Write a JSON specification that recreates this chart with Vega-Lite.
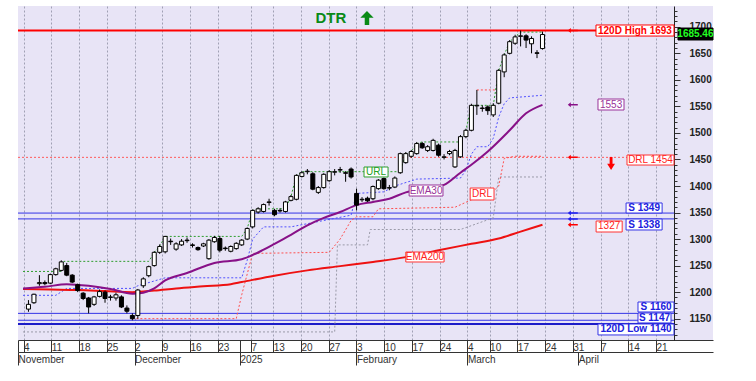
{
  "$schema": "https://vega.github.io/schema/vega-lite/v6.json",
  "width": 695,
  "height": 334,
  "padding": {"left": 17, "top": 6, "right": 0, "bottom": 0},
  "background": "white",
  "view": {"stroke": null, "fill": "#E8E4F6"},
  "config": {"view": {"stroke": null, "fill": "#E8E4F6"}, "font": "Liberation Sans", "axis": {"labelOverlap": false, "labelFlush": false, "labelBound": false}},
  "datasets": {
    "candles": [
      {"t":1,"o":1168,"h":1185,"l":1163,"c":1177},{"t":2,"o":1180,"h":1197,"l":1178,"c":1196},{"t":3,"o":1216,"h":1232,"l":1212,"c":1218},{"t":4,"o":1218,"h":1222,"l":1213,"c":1216},{"t":5,"o":1217,"h":1235,"l":1215,"c":1233},
      {"t":6,"o":1233,"h":1246,"l":1231,"c":1244},{"t":7,"o":1241,"h":1260,"l":1239,"c":1257},{"t":8,"o":1250,"h":1255,"l":1230,"c":1232},{"t":9,"o":1232,"h":1234,"l":1217,"c":1219},{"t":10,"o":1214,"h":1216,"l":1200,"c":1203},
      {"t":11,"o":1198,"h":1200,"l":1185,"c":1188},{"t":12,"o":1189,"h":1191,"l":1160,"c":1172},{"t":13,"o":1177,"h":1193,"l":1174,"c":1191},{"t":14,"o":1192,"h":1205,"l":1190,"c":1201},{"t":15,"o":1200,"h":1203,"l":1180,"c":1188},
      {"t":16,"o":1190,"h":1195,"l":1184,"c":1191},{"t":17,"o":1189,"h":1199,"l":1184,"c":1195},{"t":18,"o":1191,"h":1194,"l":1170,"c":1172},{"t":19,"o":1170,"h":1175,"l":1160,"c":1164},{"t":20,"o":1156,"h":1160,"l":1147,"c":1150},
      {"t":21,"o":1156,"h":1206,"l":1150,"c":1204},{"t":22,"o":1212,"h":1228,"l":1208,"c":1225},{"t":23,"o":1231,"h":1250,"l":1228,"c":1248},{"t":24,"o":1250,"h":1277,"l":1248,"c":1275},{"t":25,"o":1275,"h":1290,"l":1272,"c":1286},
      {"t":26,"o":1276,"h":1306,"l":1273,"c":1305},{"t":27,"o":1296,"h":1301,"l":1289,"c":1295},{"t":28,"o":1281,"h":1294,"l":1278,"c":1291},{"t":29,"o":1289,"h":1300,"l":1287,"c":1296},{"t":30,"o":1298,"h":1303,"l":1293,"c":1297},
      {"t":31,"o":1289,"h":1292,"l":1284,"c":1288},{"t":32,"o":1284,"h":1286,"l":1278,"c":1280},{"t":33,"o":1287,"h":1293,"l":1285,"c":1291},{"t":34,"o":1263,"h":1300,"l":1261,"c":1298},{"t":35,"o":1295,"h":1306,"l":1293,"c":1303},
      {"t":36,"o":1301,"h":1306,"l":1275,"c":1279},{"t":37,"o":1283,"h":1286,"l":1278,"c":1282},{"t":38,"o":1277,"h":1288,"l":1275,"c":1286},{"t":39,"o":1282,"h":1294,"l":1280,"c":1292},{"t":40,"o":1289,"h":1300,"l":1287,"c":1298},
      {"t":41,"o":1300,"h":1322,"l":1298,"c":1320},{"t":42,"o":1323,"h":1356,"l":1320,"c":1354},{"t":43,"o":1351,"h":1360,"l":1348,"c":1357},{"t":44,"o":1352,"h":1367,"l":1350,"c":1365},{"t":45,"o":1369,"h":1376,"l":1363,"c":1370},
      {"t":46,"o":1354,"h":1357,"l":1343,"c":1346},{"t":47,"o":1353,"h":1358,"l":1350,"c":1354},{"t":48,"o":1352,"h":1372,"l":1350,"c":1370},{"t":49,"o":1373,"h":1383,"l":1371,"c":1380},{"t":50,"o":1375,"h":1422,"l":1373,"c":1420},
      {"t":51,"o":1418,"h":1428,"l":1416,"c":1425},{"t":52,"o":1427,"h":1432,"l":1422,"c":1428},{"t":53,"o":1423,"h":1426,"l":1392,"c":1394},{"t":54,"o":1388,"h":1400,"l":1385,"c":1397},{"t":55,"o":1397,"h":1424,"l":1395,"c":1422},
      {"t":56,"o":1410,"h":1430,"l":1408,"c":1427},{"t":57,"o":1426,"h":1432,"l":1420,"c":1427},{"t":58,"o":1430,"h":1436,"l":1425,"c":1431},{"t":59,"o":1425,"h":1428,"l":1408,"c":1424},{"t":60,"o":1432,"h":1435,"l":1414,"c":1417},
      {"t":61,"o":1386,"h":1395,"l":1354,"c":1364},{"t":62,"o":1374,"h":1379,"l":1370,"c":1375},{"t":63,"o":1377,"h":1380,"l":1370,"c":1372},{"t":64,"o":1376,"h":1401,"l":1373,"c":1399},{"t":65,"o":1395,"h":1413,"l":1393,"c":1411},
      {"t":66,"o":1414,"h":1416,"l":1393,"c":1395},{"t":67,"o":1396,"h":1402,"l":1392,"c":1397},{"t":68,"o":1398,"h":1418,"l":1396,"c":1415},{"t":69,"o":1425,"h":1463,"l":1423,"c":1461},{"t":70,"o":1444,"h":1464,"l":1442,"c":1461},
      {"t":71,"o":1456,"h":1468,"l":1453,"c":1465},{"t":72,"o":1461,"h":1483,"l":1459,"c":1480},{"t":73,"o":1480,"h":1483,"l":1470,"c":1472},{"t":74,"o":1467,"h":1477,"l":1464,"c":1474},{"t":75,"o":1467,"h":1489,"l":1465,"c":1486},
      {"t":76,"o":1477,"h":1480,"l":1455,"c":1458},{"t":77,"o":1454,"h":1460,"l":1450,"c":1455},{"t":78,"o":1461,"h":1468,"l":1458,"c":1465},{"t":79,"o":1436,"h":1470,"l":1434,"c":1467},{"t":80,"o":1455,"h":1496,"l":1453,"c":1493},
      {"t":81,"o":1493,"h":1508,"l":1490,"c":1505},{"t":82,"o":1505,"h":1555,"l":1503,"c":1552},{"t":83,"o":1551,"h":1581,"l":1534,"c":1552},{"t":84,"o":1546,"h":1552,"l":1540,"c":1547},{"t":85,"o":1549,"h":1552,"l":1534,"c":1542},
      {"t":86,"o":1534,"h":1556,"l":1530,"c":1552},{"t":87,"o":1556,"h":1620,"l":1554,"c":1618},{"t":88,"o":1615,"h":1650,"l":1605,"c":1647},{"t":89,"o":1650,"h":1675,"l":1648,"c":1672},{"t":90,"o":1669,"h":1685,"l":1666,"c":1681},
      {"t":91,"o":1682,"h":1693,"l":1663,"c":1683},{"t":92,"o":1683,"h":1686,"l":1660,"c":1675},{"t":93,"o":1668,"h":1682,"l":1650,"c":1678},{"t":94,"o":1651,"h":1656,"l":1641,"c":1650},{"t":95,"o":1659,"h":1691,"l":1657,"c":1685.46}
    ],
    "ema200": [
      {"t":0,"v":1206},{"t":5,"v":1205},{"t":10,"v":1204},{"t":15,"v":1202},{"t":20,"v":1200},{"t":24,"v":1203},{"t":28,"v":1207},{"t":33,"v":1211},{"t":38,"v":1215},{"t":40,"v":1219},{"t":46,"v":1231},{"t":52,"v":1241},{"t":58,"v":1249},{"t":64,"v":1257},{"t":70,"v":1266},{"t":76,"v":1279},{"t":82,"v":1291},{"t":87,"v":1301},{"t":91,"v":1314},{"t":95,"v":1327}
    ],
    "ema30": [
      {"t":0,"v":1207},{"t":4,"v":1210},{"t":8,"v":1215},{"t":12,"v":1212},{"t":16,"v":1206},{"t":20,"v":1197},{"t":22,"v":1199},{"t":24,"v":1207},{"t":26,"v":1222},{"t":30,"v":1236},{"t":35,"v":1255},{"t":40,"v":1262},{"t":44,"v":1280},{"t":46,"v":1291},{"t":49,"v":1308},{"t":52,"v":1326},{"t":55,"v":1340},{"t":58,"v":1351},{"t":61,"v":1364},{"t":64,"v":1370},{"t":67,"v":1376},{"t":70,"v":1388},{"t":74,"v":1395},{"t":77,"v":1402},{"t":80,"v":1425},{"t":82,"v":1440},{"t":85,"v":1465},{"t":89,"v":1505},{"t":92,"v":1537},{"t":95,"v":1553}
    ],
    "grey": [
      {"t":0,"v":1125},{"t":57,"v":1125},{"t":57.5,"v":1289},{"t":63,"v":1289},{"t":63.5,"v":1318},{"t":80,"v":1318},{"t":86,"v":1340},{"t":87,"v":1417},{"t":95,"v":1417}
    ],
    "stop": [
      {"t":0,"v":1194},{"t":6,"v":1194},{"t":8,"v":1207},{"t":20,"v":1207},{"t":21,"v":1212},{"t":26,"v":1227},{"t":40,"v":1227},{"t":41,"v":1260},{"t":42,"v":1300},{"t":44,"v":1323},{"t":49,"v":1323},{"t":55,"v":1335},{"t":60,"v":1345},{"t":61,"v":1386},{"t":66,"v":1389},{"t":68,"v":1400},{"t":72,"v":1413},{"t":80,"v":1415},{"t":81,"v":1430},{"t":82,"v":1460},{"t":83,"v":1474},{"t":85,"v":1474},{"t":86,"v":1490},{"t":87,"v":1530},{"t":88,"v":1555},{"t":89,"v":1566},{"t":95,"v":1571}
    ],
    "drl": [
      {"t":20,"v":1150},{"t":39,"v":1150},{"t":40,"v":1195},{"t":42,"v":1273},{"t":56,"v":1275},{"t":58,"v":1300},{"t":60,"v":1335},{"t":61,"v":1342},{"t":64,"v":1342},{"t":65,"v":1357},{"t":79,"v":1360},{"t":82,"v":1374},{"t":86,"v":1390},{"t":87,"v":1400},{"t":88,"v":1452},{"t":90,"v":1456},{"t":95,"v":1456}
    ],
    "url": [
      {"t":0,"v":1239},{"t":7,"v":1239},{"t":7.5,"v":1258},{"t":23,"v":1258},{"t":24,"v":1275},{"t":25,"v":1287},{"t":26,"v":1305},{"t":40,"v":1305},{"t":41,"v":1320},{"t":42,"v":1354},{"t":43,"v":1357},{"t":48,"v":1357},{"t":49,"v":1380},{"t":50,"v":1420},{"t":51,"v":1427},{"t":69,"v":1427},{"t":70,"v":1461},{"t":71,"v":1465},{"t":72,"v":1480},{"t":73,"v":1483},{"t":80,"v":1483},{"t":81,"v":1505},{"t":82,"v":1552},{"t":86,"v":1552},{"t":87,"v":1618},{"t":88,"v":1647},{"t":89,"v":1672},{"t":90,"v":1681},{"t":91,"v":1690},{"t":95,"v":1690}
    ]
  },
  "layer": [
    {
      "data": {"values": [{"t": 50}]},
      "mark": {"type": "point", "opacity": 0, "size": 0},
      "encoding": {
        "x": {"field": "t", "type": "quantitative", "scale": {"domain": [0, 125.27], "nice": false, "zero": false},
          "axis": {"title": null, "orient": "bottom",
            "values": [1,6,11,16,21,26,31,36,42,46,51,56,61,66,71,76,81,85,90,95,100,105,110,115],
            "labelExpr": "['4','11','18','25','2','9','16','23','7','13','20','27','3','10','17','24','4','10','17','24','31','7','14','21'][indexof([1,6,11,16,21,26,31,36,42,46,51,56,61,66,71,76,81,85,90,95,100,105,110,115], datum.value)]",
            "tickSize": 12, "tickColor": "#333333", "domainColor": "#333333", "labelAlign": "left", "labelBaseline": "top", "labelPadding": -10, "labelDx": 2,
            "labelFontSize": 10, "labelColor": "#333333", "labelFont": "Liberation Sans", "labelOverlap": false, "labelFlush": false, "labelBound": false,
            "grid": true, "gridColor": "#a0a0b4", "gridDash": [2, 2]}}
      }
    },
    {
      "layer": [
        {"data": {"values": [{"v": 1454}]}, "mark": {"type": "rule", "color": "#ff5a5a", "strokeWidth": 1, "strokeDash": [2, 2]},
         "encoding": {"x": {"datum": 0, "scale": {"domain": [0, 125.27], "nice": false, "zero": false}, "axis": null}, "x2": {"datum": 118.25},
           "y": {"field": "v", "type": "quantitative", "scale": {"domain": [1109.8, 1739.2], "nice": false, "zero": false}, "axis": null}}},
        {"data": {"values": [{"v": 1349}, {"v": 1338}, {"v": 1160}, {"v": 1147}]}, "mark": {"type": "rule", "color": "#3434e6", "strokeWidth": 1},
         "encoding": {"x": {"datum": 0, "axis": null}, "x2": {"datum": 118.25}, "y": {"field": "v", "type": "quantitative", "axis": null}}},
        {"data": {"values": [{"v": 1140}]}, "mark": {"type": "rule", "color": "#1c1cc8", "strokeWidth": 2},
         "encoding": {"x": {"datum": 0, "axis": null}, "x2": {"datum": 118.25}, "y": {"field": "v", "type": "quantitative", "axis": null}}},
        {"data": {"values": [{"v": 1693}]}, "mark": {"type": "rule", "color": "#ff0000", "strokeWidth": 2},
         "encoding": {"x": {"datum": 0, "axis": null}, "x2": {"datum": 118.25}, "y": {"field": "v", "type": "quantitative", "axis": null}}}
      ]
    },
    {
      "encoding": {
        "x": {"field": "t", "type": "quantitative", "scale": {"domain": [0, 125.27], "nice": false, "zero": false}, "axis": null},
        "y": {"field": "v", "type": "quantitative", "scale": {"domain": [1109.8, 1739.2], "nice": false, "zero": false}, "axis": null}
      },
      "layer": [
        {"data": {"name": "grey"}, "mark": {"type": "line", "color": "#9a9aa8", "strokeWidth": 1, "strokeDash": [2, 2]}},
        {"data": {"name": "stop"}, "mark": {"type": "line", "color": "#5050ff", "strokeWidth": 1, "strokeDash": [2, 2]}},
        {"data": {"name": "drl"}, "mark": {"type": "line", "color": "#ff5050", "strokeWidth": 1, "strokeDash": [2, 2]}},
        {"data": {"name": "url"}, "mark": {"type": "line", "color": "#2e9e2e", "strokeWidth": 1, "strokeDash": [2, 2]}},
        {"data": {"values": [{"t": 83, "v": 1581}, {"t": 87, "v": 1581}]}, "mark": {"type": "line", "color": "#ff5050", "strokeWidth": 1, "strokeDash": [2, 2]}},
        {"data": {"name": "ema200"}, "mark": {"type": "line", "color": "#ee1111", "strokeWidth": 2, "interpolate": "monotone"}},
        {"data": {"name": "ema30"}, "mark": {"type": "line", "color": "#881188", "strokeWidth": 2, "interpolate": "monotone"}},
        {"data": {"name": "candles"}, "mark": {"type": "rule", "color": "#000000", "strokeWidth": 1},
         "encoding": {"y": {"field": "l", "type": "quantitative", "axis": null}, "y2": {"field": "h"}}},
        {"data": {"name": "candles"}, "mark": {"type": "bar", "size": 4, "stroke": "#000000", "strokeWidth": 1},
         "encoding": {
           "y": {"field": "o", "type": "quantitative", "axis": null}, "y2": {"field": "c"},
           "fill": {"condition": {"test": "datum.c >= datum.o", "value": "#ffffff"}, "value": "#000000"}
         }}
      ]
    },
    {
      "layer": [
        {"data": {"values": [{}]}, "mark": {"type": "rect", "fill": "white", "stroke": "#ff0000", "strokeWidth": 1},
         "encoding": {"x": {"datum": 104.18, "scale": {"domain": [0, 125.27], "nice": false, "zero": false}, "axis": null}, "x2": {"datum": 118.24},
           "y": {"datum": 1703.4, "scale": {"domain": [1109.8, 1739.2], "nice": false, "zero": false}, "axis": null}, "y2": {"datum": 1682.6}}},
        {"data": {"values": [{}]}, "mark": {"type": "rect", "fill": "#000000", "stroke": "#000000", "strokeWidth": 1},
         "encoding": {"x": {"datum": 118.96, "axis": null}, "x2": {"datum": 125.27}, "y": {"datum": 1697.7, "axis": null}, "y2": {"datum": 1675.1}}},
        {"data": {"values": [{}]}, "mark": {"type": "rect", "fill": "white", "stroke": "#993399", "strokeWidth": 1},
         "encoding": {"x": {"datum": 104.54, "axis": null}, "x2": {"datum": 109.23}, "y": {"datum": 1563.9, "axis": null}, "y2": {"datum": 1543.2}}},
        {"data": {"values": [{}]}, "mark": {"type": "rect", "fill": "white", "stroke": "#ff3333", "strokeWidth": 1},
         "encoding": {"x": {"datum": 109.77, "axis": null}, "x2": {"datum": 118.24}, "y": {"datum": 1458.4, "axis": null}, "y2": {"datum": 1439.5}}},
        {"data": {"values": [{}]}, "mark": {"type": "rect", "fill": "white", "stroke": "#3434e6", "strokeWidth": 1},
         "encoding": {"x": {"datum": 109.6, "axis": null}, "x2": {"datum": 116.1}, "y": {"datum": 1368, "axis": null}, "y2": {"datum": 1349.1}}},
        {"data": {"values": [{}]}, "mark": {"type": "rect", "fill": "white", "stroke": "#3434e6", "strokeWidth": 1},
         "encoding": {"x": {"datum": 109.6, "axis": null}, "x2": {"datum": 116.1}, "y": {"datum": 1337.8, "axis": null}, "y2": {"datum": 1317.1}}},
        {"data": {"values": [{}]}, "mark": {"type": "rect", "fill": "white", "stroke": "#ff3333", "strokeWidth": 1},
         "encoding": {"x": {"datum": 104.2, "axis": null}, "x2": {"datum": 108.9}, "y": {"datum": 1334, "axis": null}, "y2": {"datum": 1313.3}}},
        {"data": {"values": [{}]}, "mark": {"type": "rect", "fill": "white", "stroke": "#3434e6", "strokeWidth": 1},
         "encoding": {"x": {"datum": 111.75, "axis": null}, "x2": {"datum": 118.24}, "y": {"datum": 1181.4, "axis": null}, "y2": {"datum": 1162.6}}},
        {"data": {"values": [{}]}, "mark": {"type": "rect", "fill": "white", "stroke": "#3434e6", "strokeWidth": 1},
         "encoding": {"x": {"datum": 111.75, "axis": null}, "x2": {"datum": 117.7}, "y": {"datum": 1160.7, "axis": null}, "y2": {"datum": 1141.9}}},
        {"data": {"values": [{}]}, "mark": {"type": "rect", "fill": "white", "stroke": "#3434e6", "strokeWidth": 1},
         "encoding": {"x": {"datum": 104.54, "axis": null}, "x2": {"datum": 118.24}, "y": {"datum": 1140, "axis": null}, "y2": {"datum": 1119.3}}},
        {"data": {"values": [{}]}, "mark": {"type": "rect", "fill": "white", "stroke": "#2e9e2e", "strokeWidth": 1},
         "encoding": {"x": {"datum": 62.37, "axis": null}, "x2": {"datum": 66.7}, "y": {"datum": 1435.8, "axis": null}, "y2": {"datum": 1417}}},
        {"data": {"values": [{}]}, "mark": {"type": "rect", "fill": "white", "stroke": "#993399", "strokeWidth": 1},
         "encoding": {"x": {"datum": 70.5, "axis": null}, "x2": {"datum": 76.6}, "y": {"datum": 1401.9, "axis": null}, "y2": {"datum": 1381.1}}},
        {"data": {"values": [{}]}, "mark": {"type": "rect", "fill": "white", "stroke": "#ff3333", "strokeWidth": 1},
         "encoding": {"x": {"datum": 81.5, "axis": null}, "x2": {"datum": 85.8}, "y": {"datum": 1396.2, "axis": null}, "y2": {"datum": 1373.6}}},
        {"data": {"values": [{}]}, "mark": {"type": "rect", "fill": "white", "stroke": "#ff3333", "strokeWidth": 1},
         "encoding": {"x": {"datum": 69.9, "axis": null}, "x2": {"datum": 76.8}, "y": {"datum": 1275.6, "axis": null}, "y2": {"datum": 1256.8}}}
      ]
    },
    {
      "encoding": {
        "x": {"field": "t", "type": "quantitative", "scale": {"domain": [0, 125.27], "nice": false, "zero": false}, "axis": null},
        "y": {"field": "v", "type": "quantitative", "scale": {"domain": [1109.8, 1739.2], "nice": false, "zero": false}, "axis": null}
      },
      "layer": [
        {"data": {"values": [{"label": "120D High 1693", "t": 111.2, "v": 1693}]},
         "mark": {"type": "text", "color": "#ff0000", "fontSize": 10, "fontWeight": "bold", "font": "Liberation Sans", "align": "center", "baseline": "middle"},
         "encoding": {"text": {"field": "label"}}},
        {"data": {"values": [{"label": "1685.46", "t": 122.1, "v": 1686.4}]},
         "mark": {"type": "text", "color": "#22ff22", "fontSize": 10, "fontWeight": "bold", "font": "Liberation Sans", "align": "center", "baseline": "middle"},
         "encoding": {"text": {"field": "label"}}},
        {"data": {"values": [{"label": "DRL 1454", "t": 114, "v": 1449}, {"label": "1327", "t": 106.55, "v": 1323.7}, {"label": "DRL", "t": 83.65, "v": 1384.9}, {"label": "EMA200", "t": 73.35, "v": 1266.2}]},
         "mark": {"type": "text", "color": "#ff2222", "fontSize": 10, "font": "Liberation Sans", "align": "center", "baseline": "middle"},
         "encoding": {"text": {"field": "label"}}},
        {"data": {"values": [{"label": "1553", "t": 106.9, "v": 1553.5}, {"label": "EMA30", "t": 73.55, "v": 1391.5}]},
         "mark": {"type": "text", "color": "#993399", "fontSize": 10, "font": "Liberation Sans", "align": "center", "baseline": "middle"},
         "encoding": {"text": {"field": "label"}}},
        {"data": {"values": [{"label": "URL", "t": 64.53, "v": 1426.4}]},
         "mark": {"type": "text", "color": "#22a022", "fontSize": 10, "font": "Liberation Sans", "align": "center", "baseline": "middle"},
         "encoding": {"text": {"field": "label"}}},
        {"data": {"values": [{"label": "S 1349", "t": 112.85, "v": 1358.5}, {"label": "S 1338", "t": 112.85, "v": 1327.4}, {"label": "S 1160", "t": 115, "v": 1172}, {"label": "S 1147", "t": 114.72, "v": 1151.3}, {"label": "120D Low 1140", "t": 111.4, "v": 1129.7}]},
         "mark": {"type": "text", "color": "#2020dd", "fontSize": 10, "fontWeight": "bold", "font": "Liberation Sans", "align": "center", "baseline": "middle"},
         "encoding": {"text": {"field": "label"}}},
        {"data": {"values": [{"t": 100, "v": 1693}, {"t": 100, "v": 1454}, {"t": 100, "v": 1327}]},
         "mark": {"type": "point", "shape": "M-1,0L-0.4,-0.5V-0.15H1V0.15H-0.4V0.5Z", "size": 100, "filled": true, "color": "#ff0000", "opacity": 1, "strokeWidth": 0}},
        {"data": {"values": [{"t": 100, "v": 1553}]},
         "mark": {"type": "point", "shape": "M-1,0L-0.4,-0.5V-0.15H1V0.15H-0.4V0.5Z", "size": 100, "filled": true, "color": "#881188", "opacity": 1, "strokeWidth": 0}},
        {"data": {"values": [{"t": 100, "v": 1349}, {"t": 100, "v": 1338}]},
         "mark": {"type": "point", "shape": "M-1,0L-0.4,-0.5V-0.15H1V0.15H-0.4V0.5Z", "size": 100, "filled": true, "color": "#2020ee", "opacity": 1, "strokeWidth": 0}},
        {"data": {"values": [{"t": 106.9, "v": 1442.4}]},
         "mark": {"type": "point", "shape": "M-0.6,0.05H-0.22V-1H0.22V0.05H0.6L0,1Z", "size": 169, "filled": true, "color": "#ff0000", "opacity": 1, "strokeWidth": 0}},
        {"data": {"values": [{"t": 62.9, "v": 1716.6}]},
         "mark": {"type": "point", "shape": "M0,-1L0.95,-0.05H0.32V1H-0.32V-0.05H-0.95Z", "size": 196, "filled": true, "color": "#0a8a16", "opacity": 1, "strokeWidth": 0}},
        {"data": {"values": [{"label": "DTR", "t": 56.4, "v": 1716.6}]},
         "mark": {"type": "text", "color": "#0a8a16", "fontSize": 15, "fontWeight": "bold", "font": "Liberation Sans", "align": "center", "baseline": "middle"},
         "encoding": {"text": {"field": "label"}}}
      ]
    },
    {
      "data": {"values": [{"t": 50}]},
      "mark": {"type": "point", "opacity": 0, "size": 0},
      "encoding": {
        "x": {"field": "t", "type": "quantitative", "scale": {"domain": [0, 125.27], "nice": false, "zero": false},
          "axis": {"title": null, "orient": "bottom", "values": [0, 40], "labels": false, "domain": false, "grid": false, "tickSize": 12, "tickColor": "#333333"}}
      }
    },
    {
      "data": {"values": [{"t": 50}]},
      "mark": {"type": "point", "opacity": 0, "size": 0},
      "encoding": {
        "x": {"field": "t", "type": "quantitative", "scale": {"domain": [0, 125.27], "nice": false, "zero": false},
          "axis": {"title": null, "orient": "bottom", "offset": 12, "values": [0, 21, 40, 61, 81, 101],
            "labelExpr": "['November','December','2025','February','March','April'][indexof([0,21,40,61,81,101], datum.value)]",
            "tickSize": 13, "tickColor": "#333333", "domainColor": "#333333", "labelAlign": "left", "labelBaseline": "top", "labelPadding": -11, "labelDx": 2,
            "labelFontSize": 10, "labelColor": "#333333", "labelFont": "Liberation Sans", "labelOverlap": false, "labelFlush": false, "labelBound": false, "grid": false}}
      }
    },
    {
      "data": {"values": [{"v": 1400}]},
      "mark": {"type": "point", "opacity": 0, "size": 0},
      "encoding": {
        "y": {"field": "v", "type": "quantitative", "scale": {"domain": [1109.8, 1739.2], "nice": false, "zero": false},
          "axis": {"title": null, "orient": "right", "offset": -39,
            "values": [1150,1200,1250,1300,1350,1400,1450,1500,1550,1600,1650,1700], "format": "d",
            "tickSize": 6, "tickColor": "#333333", "domainColor": "#222222", "labelPadding": 9, "labelFontSize": 10, "labelFontWeight": "bold", "labelColor": "#222222",
            "labelFont": "Liberation Sans", "grid": false, "labelOverlap": false, "labelBound": false, "labelFlush": false}}
      }
    },
    {
      "data": {"values": [{"v": 1400}]},
      "mark": {"type": "point", "opacity": 0, "size": 0},
      "encoding": {
        "y": {"field": "v", "type": "quantitative", "scale": {"domain": [1109.8, 1739.2], "nice": false, "zero": false},
          "axis": {"title": null, "orient": "right", "offset": -39,
            "values": [1120,1130,1140,1160,1170,1180,1190,1210,1220,1230,1240,1260,1270,1280,1290,1310,1320,1330,1340,1360,1370,1380,1390,1410,1420,1430,1440,1460,1470,1480,1490,1510,1520,1530,1540,1560,1570,1580,1590,1610,1620,1630,1640,1660,1670,1680,1690,1710,1720,1730],
            "labels": false, "domain": false, "grid": false, "tickSize": 3, "tickColor": "#333333"}}
      }
    }
  ],
  "resolve": {"scale": {"x": "independent", "y": "independent"}, "axis": {"x": "independent", "y": "independent"}}
}
